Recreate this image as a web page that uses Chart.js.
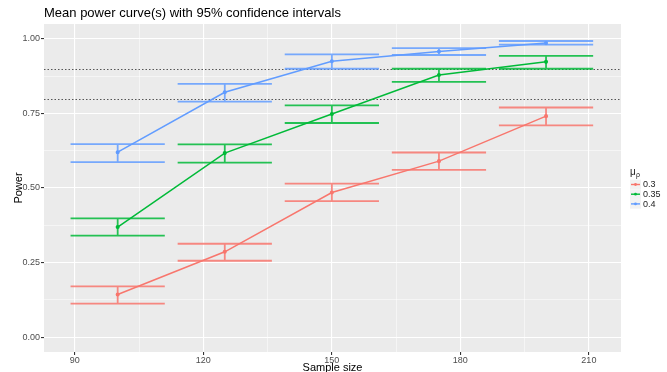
<!DOCTYPE html>
<html>
<head>
<meta charset="utf-8">
<script src="https://cdn.jsdelivr.net/npm/chart.js@4"></script>
<style>
  html, body { margin: 0; padding: 0; background: #fff; }
  #wrap { width: 667px; height: 372px; position: relative; }
</style>
</head>
<body>
<div id="wrap"><canvas id="chart"></canvas></div>
<script>
const SAMPLE_SIZES = [100, 125, 150, 175, 200];
const GROUPS = ['0.3', '0.35', '0.4'];
const COLORS = ['#F8766D', '#00BA38', '#619CFF'];

const POWER_03 = [0.143, 0.286, 0.485, 0.590, 0.741];
const LOW_03   = [0.112, 0.256, 0.456, 0.561, 0.710];
const HIGH_03  = [0.170, 0.313, 0.515, 0.619, 0.770];

const POWER_035 = [0.369, 0.617, 0.748, 0.879, 0.923];
const LOW_035   = [0.340, 0.585, 0.718, 0.856, 0.900];
const HIGH_035  = [0.398, 0.646, 0.777, 0.900, 0.943];

const POWER_04 = [0.620, 0.821, 0.925, 0.958, 0.986];
const LOW_04   = [0.587, 0.790, 0.900, 0.946, 0.981];
const HIGH_04  = [0.647, 0.849, 0.948, 0.969, 0.993];

const X_TICKS = [90, 120, 150, 180, 210];
const Y_TICKS = [0, 0.25, 0.5, 0.75, 1];
const THRESHOLDS = [0.8, 0.9];
const CAP_HALF = 11; // half width of the error bar caps, in sample size units

const POWER = [POWER_03, POWER_035, POWER_04];
const LOW = [LOW_03, LOW_035, LOW_04];
const HIGH = [HIGH_03, HIGH_035, HIGH_04];

const FONT = 'Liberation Sans, Arial, sans-serif';

function withMinor(ticks) {
  const out = [];
  ticks.forEach((t, i) => {
    out.push(t);
    if (i < ticks.length - 1) out.push((t + ticks[i + 1]) / 2);
  });
  return out;
}
const isMajor = (list, v) => list.some(t => Math.abs(t - v) < 1e-9);

const panelPlugin = {
  id: 'panel',
  beforeDraw(chart) {
    const { ctx, chartArea: a } = chart;
    ctx.save();
    ctx.fillStyle = '#EBEBEB';
    ctx.fillRect(a.left, a.top, a.right - a.left, a.bottom - a.top);
    ctx.restore();
  },
  beforeDatasetsDraw(chart) {
    const { ctx, chartArea: a, scales } = chart;
    ctx.save();
    // linhas de referência
    ctx.strokeStyle = '#555';
    ctx.lineWidth = 1;
    ctx.setLineDash([1.5, 2]);
    THRESHOLDS.forEach(t => {
      const y = Math.round(scales.y.getPixelForValue(t)) + 0.5;
      ctx.beginPath(); ctx.moveTo(a.left, y); ctx.lineTo(a.right, y); ctx.stroke();
    });
    ctx.setLineDash([]);
    // barras de erro
    GROUPS.forEach((g, gi) => {
      ctx.strokeStyle = COLORS[gi];
      ctx.globalAlpha = 0.85;
      ctx.lineWidth = 1.8;
      SAMPLE_SIZES.forEach((n, i) => {
        const x = scales.x.getPixelForValue(n);
        const x0 = scales.x.getPixelForValue(n - CAP_HALF);
        const x1 = scales.x.getPixelForValue(n + CAP_HALF);
        const yl = scales.y.getPixelForValue(LOW[gi][i]);
        const yh = scales.y.getPixelForValue(HIGH[gi][i]);
        ctx.beginPath();
        ctx.moveTo(x, yl); ctx.lineTo(x, yh);
        ctx.moveTo(x0, yl); ctx.lineTo(x1, yl);
        ctx.moveTo(x0, yh); ctx.lineTo(x1, yh);
        ctx.stroke();
      });
    });
    ctx.restore();
  },
  afterDraw(chart) {
    const { ctx, chartArea: a } = chart;
    ctx.save();
    // título
    ctx.fillStyle = '#000';
    ctx.font = '13px ' + FONT;
    ctx.textBaseline = 'middle';
    ctx.textAlign = 'left';
    ctx.fillText('Mean power curve(s) with 95% confidence intervals', 44, 13);
    // título do eixo x
    ctx.font = '11px ' + FONT;
    ctx.textAlign = 'center';
    ctx.fillText('Sample size', (a.left + a.right) / 2, 368);
    ctx.textAlign = 'left';
    // legenda
    ctx.font = '10px ' + FONT;
    ctx.fillStyle = '#222';
    ctx.fillText('\u03bc', 630, 172);
    ctx.font = '7px ' + FONT;
    ctx.fillText('\u03c1', 636, 175);
    GROUPS.forEach((g, gi) => {
      const y = 184.5 + gi * 9.7;
      ctx.fillStyle = '#F2F2F2';
      ctx.fillRect(630, y - 4.8, 11, 9.6);
      ctx.strokeStyle = COLORS[gi];
      ctx.lineWidth = 1.4;
      ctx.beginPath(); ctx.moveTo(631, y); ctx.lineTo(640, y); ctx.stroke();
      ctx.fillStyle = COLORS[gi];
      ctx.beginPath(); ctx.arc(635.5, y, 1.4, 0, Math.PI * 2); ctx.fill();
      ctx.fillStyle = '#222';
      ctx.font = '9px ' + FONT;
      ctx.fillText(g, 643, y + 0.5);
    });
    ctx.restore();
  }
};

const datasets = GROUPS.map((g, gi) => ({
  label: g,
  data: SAMPLE_SIZES.map((n, i) => ({ x: n, y: POWER[gi][i] })),
  showLine: true,
  borderColor: COLORS[gi],
  backgroundColor: COLORS[gi],
  borderWidth: 1.5,
  pointRadius: 1.3,
  pointHoverRadius: 1.3,
  tension: 0
}));

new Chart(document.getElementById('chart'), {
  type: 'scatter',
  data: { datasets },
  plugins: [panelPlugin],
  options: {
    responsive: true,
    maintainAspectRatio: false,
    animation: false,
    layout: { padding: { top: 24, right: 46, left: 0, bottom: 0 } },
    plugins: { legend: { display: false }, tooltip: { enabled: false } },
    scales: {
      x: {
        type: 'linear',
        min: 82.8,
        max: 217.5,
        afterBuildTicks: s => { s.ticks = withMinor(X_TICKS).map(v => ({ value: v })); },
        afterFit: s => { s.height = 20; },
        border: { display: false },
        grid: {
          color: '#FFFFFF',
          lineWidth: c => isMajor(X_TICKS, c.tick.value) ? 1.1 : 0.5,
          tickLength: 3,
          tickColor: c => isMajor(X_TICKS, c.tick.value) ? '#333' : 'rgba(0,0,0,0)'
        },
        ticks: {
          color: '#4D4D4D',
          font: { size: 9, family: FONT },
          padding: 0,
          maxRotation: 0,
          autoSkip: false,
          callback: v => isMajor(X_TICKS, v) ? String(v) : ''
        },
        title: { display: false }
      },
      y: {
        min: -0.05,
        max: 1.05,
        afterBuildTicks: s => { s.ticks = withMinor(Y_TICKS).map(v => ({ value: v })); },
        afterFit: s => { s.width = 44; },
        border: { display: false },
        grid: {
          color: '#FFFFFF',
          lineWidth: c => isMajor(Y_TICKS, c.tick.value) ? 1.1 : 0.5,
          tickLength: 3,
          tickColor: c => isMajor(Y_TICKS, c.tick.value) ? '#333' : 'rgba(0,0,0,0)'
        },
        ticks: {
          color: '#4D4D4D',
          font: { size: 9, family: FONT },
          padding: 1,
          autoSkip: false,
          callback: v => isMajor(Y_TICKS, v) ? v.toFixed(2) : ''
        },
        title: { display: true, text: 'Power', color: '#000', font: { size: 11, family: FONT }, padding: { top: 12, bottom: 0 } }
      }
    }
  }
});
</script>
</body>
</html>
